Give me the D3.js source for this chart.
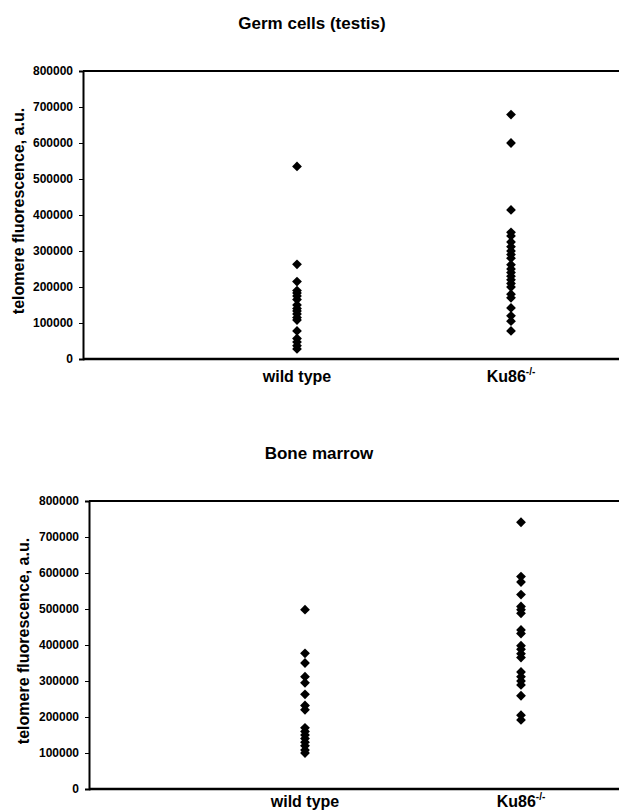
<!DOCTYPE html>
<html>
<head>
<meta charset="utf-8">
<script src="https://cdn.jsdelivr.net/npm/d3@7"></script>
<style>
  body { margin: 0; background: #fff; }
  text { font-family: "Liberation Sans", Arial, sans-serif; font-weight: bold; fill: #000; }
</style>
</head>
<body>
<div id="chart"></div>
<script>
// telomere fluorescence (a.u.) per cell
const groups = ["wild type", "Ku86"];
const yTicks = [0, 100000, 200000, 300000, 400000, 500000, 600000, 700000, 800000];

const germWild = [535000, 263000, 215000, 190000, 183000, 175000, 165000, 150000, 140000, 133000,
  125000, 115000, 108000, 78000, 57000, 47000, 37000, 28000];
const germKu = [679000, 600000, 414000, 352000, 342000, 325000, 312000, 300000, 290000, 280000,
  262000, 250000, 240000, 230000, 220000, 210000, 200000, 180000, 170000, 142000, 120000, 105000, 78000];

const boneWild = [498000, 377000, 350000, 312000, 295000, 263000, 232000, 220000, 170000, 160000,
  150000, 140000, 130000, 120000, 108000, 100000];
const boneKu = [741000, 590000, 575000, 540000, 507000, 498000, 488000, 442000, 432000, 398000,
  388000, 376000, 365000, 325000, 312000, 300000, 289000, 259000, 205000, 192000];

(function () {
  const width = 619;
  const height = 812;

  const svg = d3.select("#chart").append("svg")
    .attr("width", width).attr("height", height)
    .attr("viewBox", [0, 0, width, height]);

  const panels = [
    { title: "Germ cells (testis)", titleX: 312, titleY: 29, series: [germWild, germKu],
      left: 83, top: 71, bottom: 359, step: 214, labelY: 382, yLabelX: 18 },
    { title: "Bone marrow", titleX: 319, titleY: 459, series: [boneWild, boneKu],
      left: 89, top: 501, bottom: 789, step: 216, labelY: 807, yLabelX: 23 },
  ];

  const diamond = d3.symbol().type(d3.symbolSquare).size(48);

  panels.forEach(p => {
    const g = svg.append("g");

    // category positions: wild type at 1, Ku86 at 2 (plot box runs past the page edge)
    const x = d3.scaleLinear().domain([0, 3]).range([p.left, p.left + 3 * p.step]);
    const y = d3.scaleLinear().domain([0, 800000]).range([p.bottom, p.top]);

    g.append("text")
      .attr("x", p.titleX)
      .attr("y", p.titleY)
      .attr("text-anchor", "middle")
      .attr("font-size", "17px")
      .text(p.title);

    // box: top and bottom rules
    g.append("line")
      .attr("x1", p.left).attr("x2", width + 5)
      .attr("y1", y(800000)).attr("y2", y(800000))
      .attr("stroke", "#000").attr("stroke-width", 2);
    g.append("line")
      .attr("x1", p.left).attr("x2", width + 5)
      .attr("y1", y(0)).attr("y2", y(0))
      .attr("stroke", "#000").attr("stroke-width", 2.5);

    const yAxis = g.append("g")
      .attr("transform", `translate(${p.left},0)`)
      .call(d3.axisLeft(y).tickValues(yTicks).tickSize(4).tickPadding(6).tickFormat(d3.format("d")));
    yAxis.select(".domain").attr("stroke-width", 2);
    yAxis.selectAll(".tick line").attr("stroke-width", 1);
    yAxis.selectAll(".tick text").attr("font-size", "12px").attr("font-family", null);

    g.append("text")
      .attr("transform", `translate(${p.yLabelX},${(p.top + p.bottom) / 2 - 4}) rotate(-90)`)
      .attr("text-anchor", "middle")
      .attr("dy", "0.35em")
      .attr("font-size", "16px")
      .text("telomere fluorescence, a.u.");

    // category labels
    const labels = g.selectAll(".catLabel")
      .data(groups)
      .join("text")
      .attr("class", "catLabel")
      .attr("x", (d, i) => x(i + 1))
      .attr("y", p.labelY)
      .attr("text-anchor", "middle")
      .attr("font-size", "16px");
    labels.filter(d => d === "wild type").text(d => d);
    const ku = labels.filter(d => d === "Ku86");
    ku.append("tspan").text(d => d);
    ku.append("tspan").attr("font-size", "10px").attr("dy", "-7").text("-/-");

    // points
    p.series.forEach((vals, i) => {
      g.selectAll(null)
        .data(vals)
        .join("path")
        .attr("d", diamond)
        .attr("transform", d => `translate(${x(i + 1)},${y(d)}) rotate(45)`)
        .attr("fill", "#000");
    });
  });
})();
</script>
</body>
</html>
